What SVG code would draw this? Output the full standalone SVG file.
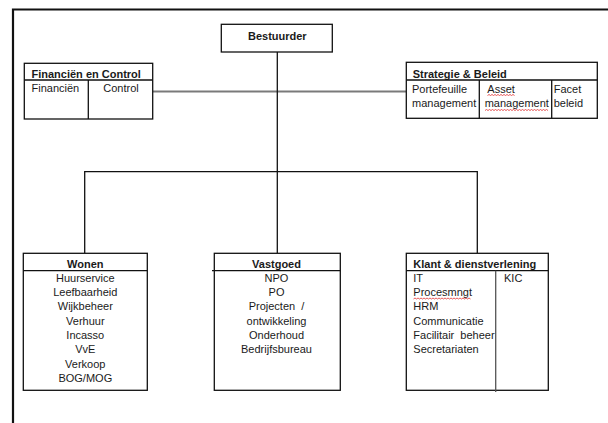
<svg xmlns="http://www.w3.org/2000/svg" width="608" height="423" viewBox="0 0 608 423">
<style>
text{font-family:"Liberation Sans",Arial,sans-serif;font-size:11px;fill:#1a1a1a}
.b{font-weight:bold}
.m{text-anchor:middle}
.box{fill:#fff;stroke:#111;stroke-width:1.3}
.ln{stroke:#111;stroke-width:1.3;fill:none}
.gl{stroke:#7a7a7a;stroke-width:2;fill:none}
.sq{stroke:#e03030;stroke-width:0.8;fill:none}
</style>
<rect width="608" height="423" fill="#fff"/>
<path d="M13 423 V9.5 H608" fill="none" stroke="#111" stroke-width="2.2"/>
<g id="connectors">
<path class="gl" d="M152.7 91.5 H406.3"/>
<path class="ln" d="M277.3 52 V253.3"/>
<path class="ln" d="M84.7 253.3 V171.7 H477.3 V253.3"/>
</g>
<g id="bestuurder">
<rect class="box" x="221.3" y="24.3" width="111" height="27.7"/>
<text class="b m" x="277.3" y="39.5">Bestuurder</text>
</g>
<g id="financien">
<rect class="box" x="24.3" y="63.3" width="128.4" height="55.7"/>
<path class="ln" d="M24.3 80 H152.7 M88.3 80 V119"/>
<text class="b" x="31.5" y="77.7">Financiën en Control</text>
<text x="31.5" y="91.7">Financiën</text>
<text x="103.3" y="91.7">Control</text>
</g>
<g id="strategie">
<rect class="box" x="406.3" y="62.3" width="191" height="56"/>
<path class="ln" d="M406.3 80 H597.3 M479.3 80 V118.3 M551.7 80 V118.3"/>
<text class="b" x="412.7" y="77.7">Strategie &amp; Beleid</text>
<text x="412" y="92.7">Portefeuille</text>
<text x="412" y="107.3">management</text>
<text x="487.3" y="92.7">Asset</text>
<text x="484.7" y="107.3">management</text>
<text x="553.7" y="92.7">Facet</text>
<text x="553.7" y="107.3">beleid</text>
<path class="sq" d="M487.5 95.5 l1.5 -1 l1.5 1 l1.5 -1 l1.5 1 l1.5 -1 l1.5 1 l1.5 -1 l1.5 1 l1.5 -1 l1.5 1 l1.5 -1 l1.5 1 l1.5 -1 l1.5 1 l1.5 -1 l1.5 1 l1.5 -1 l1.5 1"/>
<path class="sq" d="M485 110.5 l1.5 -1 l1.5 1 l1.5 -1 l1.5 1 l1.5 -1 l1.5 1 l1.5 -1 l1.5 1 l1.5 -1 l1.5 1 l1.5 -1 l1.5 1 l1.5 -1 l1.5 1 l1.5 -1 l1.5 1 l1.5 -1 l1.5 1 l1.5 -1 l1.5 1 l1.5 -1 l1.5 1 l1.5 -1 l1.5 1 l1.5 -1 l1.5 1 l1.5 -1 l1.5 1 l1.5 -1 l1.5 1 l1.5 -1 l1.5 1 l1.5 -1 l1.5 1 l1.5 -1 l1.5 1 l1.5 -1 l1.5 1 l1.5 -1 l1.5 1 l1.5 -1 l1.5 1"/>
</g>
<g id="wonen">
<rect class="box" x="23.3" y="253.3" width="124" height="137"/>
<path class="ln" d="M23.3 270.7 H147.3"/>
<text class="b m" x="85.3" y="267.7">Wonen</text>
<text class="m" x="85.3" y="281.5">Huurservice</text>
<text class="m" x="85.3" y="296">Leefbaarheid</text>
<text class="m" x="85.3" y="310.3">Wijkbeheer</text>
<text class="m" x="85.3" y="324.7">Verhuur</text>
<text class="m" x="85.3" y="339">Incasso</text>
<text class="m" x="85.3" y="353.3">VvE</text>
<text class="m" x="85.3" y="368">Verkoop</text>
<text class="m" x="85.3" y="382.3">BOG/MOG</text>
</g>
<g id="vastgoed">
<rect class="box" x="214.3" y="253.3" width="126" height="137"/>
<path class="ln" d="M212 270.7 H340.3"/>
<text class="b m" x="276.5" y="267.7">Vastgoed</text>
<text class="m" x="276.5" y="281.5">NPO</text>
<text class="m" x="276.5" y="296">PO</text>
<text class="m" x="276.5" y="310.3" xml:space="preserve">Projecten  /</text>
<text class="m" x="276.5" y="324.7">ontwikkeling</text>
<text class="m" x="276.5" y="339">Onderhoud</text>
<text class="m" x="276.5" y="353.3">Bedrijfsbureau</text>
</g>
<g id="klant">
<rect class="box" x="406.3" y="253.3" width="142" height="137"/>
<path class="ln" d="M406.3 270.7 H548.3"/>
<path d="M495.7 270.7 V392" stroke="#555" stroke-width="1.3"/>
<text class="b" x="413.3" y="267.7">Klant &amp; dienstverlening</text>
<text x="413.3" y="281.5">IT</text>
<text x="413.3" y="296">Procesmngt</text>
<text x="413.3" y="310.3">HRM</text>
<text x="413.3" y="324.7">Communicatie</text>
<text x="413.3" y="339" xml:space="preserve">Facilitair  beheer</text>
<text x="413.3" y="353.3">Secretariaten</text>
<text x="504" y="281.5">KIC</text>
<path class="sq" d="M413.5 299 l1.5 -1 l1.5 1 l1.5 -1 l1.5 1 l1.5 -1 l1.5 1 l1.5 -1 l1.5 1 l1.5 -1 l1.5 1 l1.5 -1 l1.5 1 l1.5 -1 l1.5 1 l1.5 -1 l1.5 1 l1.5 -1 l1.5 1 l1.5 -1 l1.5 1 l1.5 -1 l1.5 1 l1.5 -1 l1.5 1 l1.5 -1 l1.5 1 l1.5 -1 l1.5 1 l1.5 -1 l1.5 1 l1.5 -1 l1.5 1 l1.5 -1 l1.5 1 l1.5 -1 l1.5 1 l1.5 -1 l1.5 1"/>
</g>
</svg>
